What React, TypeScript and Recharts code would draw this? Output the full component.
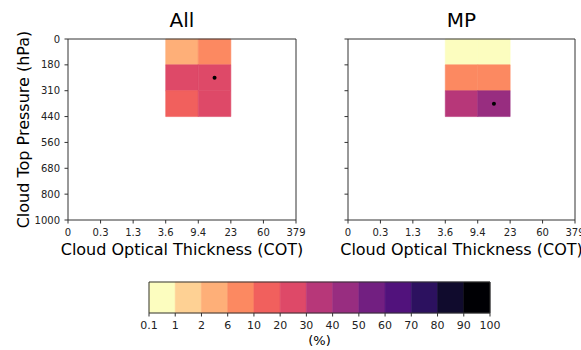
import { ScatterChart, Scatter, XAxis, YAxis, ReferenceArea } from 'recharts';

const cotEdges = ['0', '0.3', '1.3', '3.6', '9.4', '23', '60', '379'];
const ctpEdges = ['0', '180', '310', '440', '560', '680', '800', '1000'];
const colorBounds = ['0.1', '1', '2', '6', '10', '20', '30', '40', '50', '60', '70', '80', '90', '100'];
const magmaColors = [
  '#fcfdbf', '#fed194', '#feaf78', '#fc8961', '#f1605d', '#de4968', '#b73779',
  '#982d80', '#721f81', '#51127c', '#2c115f', '#100b2d', '#000004',
];

// histogram cells in percent (col = COT bin, row = CTP bin)
const allCells = [
  { col: 3, row: 0, value: 4 },
  { col: 4, row: 0, value: 8 },
  { col: 3, row: 1, value: 22 },
  { col: 4, row: 1, value: 27 },
  { col: 3, row: 2, value: 15 },
  { col: 4, row: 2, value: 24 },
];
const mpCells = [
  { col: 3, row: 0, value: 0.5 },
  { col: 4, row: 0, value: 0.5 },
  { col: 3, row: 1, value: 8 },
  { col: 4, row: 1, value: 8 },
  { col: 3, row: 2, value: 35 },
  { col: 4, row: 2, value: 48 },
];

const FONT = '"DejaVu Sans", sans-serif';
const binTicks = cotEdges.map((_, i) => i);
const barTicks = colorBounds.map((_, i) => i);
// anchor points so the colour bar chart has something to lay out
const barAnchor = [{ x: 0, y: 0 }, { x: 13, y: 1 }];

function colorFor(v: number) {
  const nums = colorBounds.map(Number);
  for (let i = 0; i < nums.length - 1; i++) {
    if (v >= nums[i] && v < nums[i + 1]) return magmaColors[i];
  }
  return magmaColors[magmaColors.length - 1];
}

interface Cell {
  col: number;
  row: number;
  value: number;
}

function Histo({ cells, showY, width, right }: { cells: Cell[]; showY: boolean; width: number; right: number }) {
  const max = cells.reduce((a, c) => (c.value > a.value ? c : a), cells[0]);
  const dot = [{ x: max.col + 0.5, y: max.row + 0.5 }];
  return (
    <ScatterChart width={width} height={262} margin={{ top: 39, right, bottom: 22, left: 18 }}>
      <XAxis
        type="number"
        dataKey="x"
        domain={[0, 7]}
        ticks={binTicks}
        tickFormatter={(i: number) => cotEdges[i]}
        interval={0}
        axisLine={false}
        tickLine={{ stroke: '#333' }}
        tickSize={3.5}
        tickMargin={5}
        height={20}
        tick={{ fontSize: 10, fill: '#222', fontFamily: FONT }}
      />
      <YAxis
        type="number"
        dataKey="y"
        domain={[0, 7]}
        reversed
        ticks={binTicks}
        tickFormatter={(i: number) => (showY ? ctpEdges[i] : '')}
        interval={0}
        axisLine={false}
        tickLine={{ stroke: '#333' }}
        tickSize={3.5}
        tickMargin={4.5}
        width={50}
        tick={{ fontSize: 10, fill: '#222', fontFamily: FONT }}
      />
      {cells.map((c, i) => (
        <ReferenceArea
          key={i}
          x1={c.col}
          x2={c.col + 1}
          y1={c.row}
          y2={c.row + 1}
          fill={colorFor(c.value)}
          fillOpacity={1}
          stroke={colorFor(c.value)}
          strokeWidth={0.6}
        />
      ))}
      <ReferenceArea x1={0} x2={7} y1={0} y2={7} fill="none" stroke="#333" strokeWidth={1} />
      <Scatter
        data={dot}
        isAnimationActive={false}
        shape={(p: any) => <circle cx={p.cx} cy={p.cy} r={2} fill="#000" />}
      />
    </ScatterChart>
  );
}

function ColorBar() {
  return (
    <ScatterChart width={581} height={80} margin={{ top: 12, right: 91, bottom: 21, left: 149 }}>
      <XAxis
        type="number"
        dataKey="x"
        domain={[0, 13]}
        ticks={barTicks}
        tickFormatter={(i: number) => colorBounds[i]}
        interval={0}
        axisLine={false}
        tickLine={{ stroke: '#333' }}
        tickSize={3.5}
        tickMargin={4.5}
        height={16}
        tick={{ fontSize: 11, fill: '#222', fontFamily: FONT }}
      />
      <YAxis type="number" dataKey="y" domain={[0, 1]} hide />
      {magmaColors.map((c, i) => (
        <ReferenceArea key={i} x1={i} x2={i + 1} y1={0} y2={1} fill={c} fillOpacity={1} stroke={c} strokeWidth={0.6} />
      ))}
      <ReferenceArea x1={0} x2={13} y1={0} y2={1} fill="none" stroke="#333" strokeWidth={1} />
      <Scatter data={barAnchor} isAnimationActive={false} shape={() => <g />} />
    </ScatterChart>
  );
}

export default function App() {
  return (
    <div style={{ position: 'absolute', left: 0, top: 0, width: 581, height: 350, background: '#fff', overflow: 'hidden' }}>
      <div style={{ position: 'absolute', left: 0, top: 0 }}>
        <Histo cells={allCells} showY width={320} right={24} />
      </div>
      <div style={{ position: 'absolute', left: 280, top: 0 }}>
        <Histo cells={mpCells} showY={false} width={301} right={6} />
      </div>
      <div style={{ position: 'absolute', left: 0, top: 270 }}>
        <ColorBar />
      </div>
      <svg
        width={581}
        height={350}
        style={{ position: 'absolute', left: 0, top: 0, pointerEvents: 'none' }}
        fontFamily={FONT}
      >
        <text x={182} y={27} textAnchor="middle" fontSize={20} fill="#000">All</text>
        <text x={461.5} y={27} textAnchor="middle" fontSize={20} fill="#000">MP</text>
        <text x={182} y={255} textAnchor="middle" fontSize={16} fill="#000">Cloud Optical Thickness (COT)</text>
        <text x={461.5} y={255} textAnchor="middle" fontSize={16} fill="#000">Cloud Optical Thickness (COT)</text>
        <text x={29} y={129.5} textAnchor="middle" fontSize={16} fill="#000" transform="rotate(-90 29 129.5)">
          Cloud Top Pressure (hPa)
        </text>
        <text x={319.5} y={345} textAnchor="middle" fontSize={13} fill="#000">(%)</text>
      </svg>
    </div>
  );
}
